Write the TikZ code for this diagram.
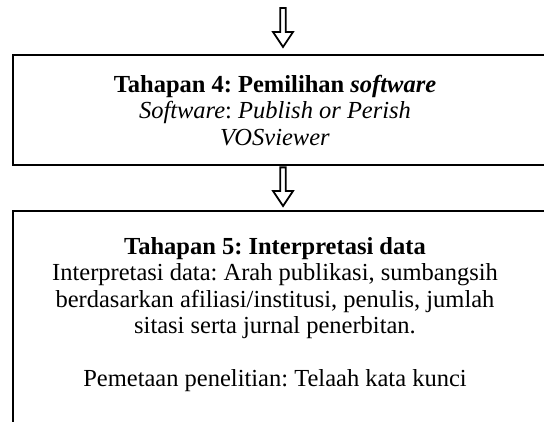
\documentclass[tikz,border=0pt]{standalone}
\usepackage{fontspec}
\setmainfont{Liberation Serif}
\usetikzlibrary{calc}
\tikzset{
  stagebox/.style={draw, line width=2.4pt, rectangle, inner sep=0pt},
  stagetext/.style={align=center, inner sep=0pt, anchor=north, font=\fontsize{24.5}{26.5}\selectfont\frenchspacing},
  blockarr/.style={draw, line width=1.8pt, fill=white, line join=miter}
}
\newcommand\blockarrow[2]{%
  \draw[blockarr] ($(#1)+(-2.7,0)$) -- ($(#2)+(-2.7,15)$) -- ($(#2)+(-10,15)$) -- (#2)
    -- ($(#2)+(10,15)$) -- ($(#2)+(2.7,15)$) -- ($(#1)+(2.7,0)$) -- cycle;}
\begin{document}
\begin{tikzpicture}[x=1pt,y=1pt]
  \useasboundingbox (0,0) rectangle (544,421);
  \clip (0,0) rectangle (544,421);
  % boxes
  \node[stagebox, minimum width=560pt, minimum height=110pt, anchor=north west] (b4) at (12,367) {};
  \node[stagebox, minimum width=560pt, minimum height=240pt, anchor=north west] (b5) at (12,211) {};
  % texts
  \node[stagetext] (t4) at (275,346) {\textbf{Tahapan 4: Pemilihan \textit{software}}\\
    \textit{Software}: \textit{Publish or Perish}\\
    \textit{VOSviewer}};
  \node[stagetext] (t5) at (275,184) {\textbf{Tahapan 5: Interpretasi data}\\
    Interpretasi data: Arah publikasi, sumbangsih\\
    berdasarkan afiliasi/institusi, penulis, jumlah\\
    sitasi serta jurnal penerbitan.\\[26.5pt]
    Pemetaan penelitian: Telaah kata kunci};
  % arrows
  \coordinate (s1) at (283,413);
  \path (s1 |- b4.north) ++(0,7) coordinate (e1);
  \path (s1 |- b4.south) ++(0,-1) coordinate (s2);
  \path (s1 |- b5.north) ++(0,4) coordinate (e2);
  \blockarrow{s1}{e1}
  \blockarrow{s2}{e2}
\end{tikzpicture}
\end{document}
